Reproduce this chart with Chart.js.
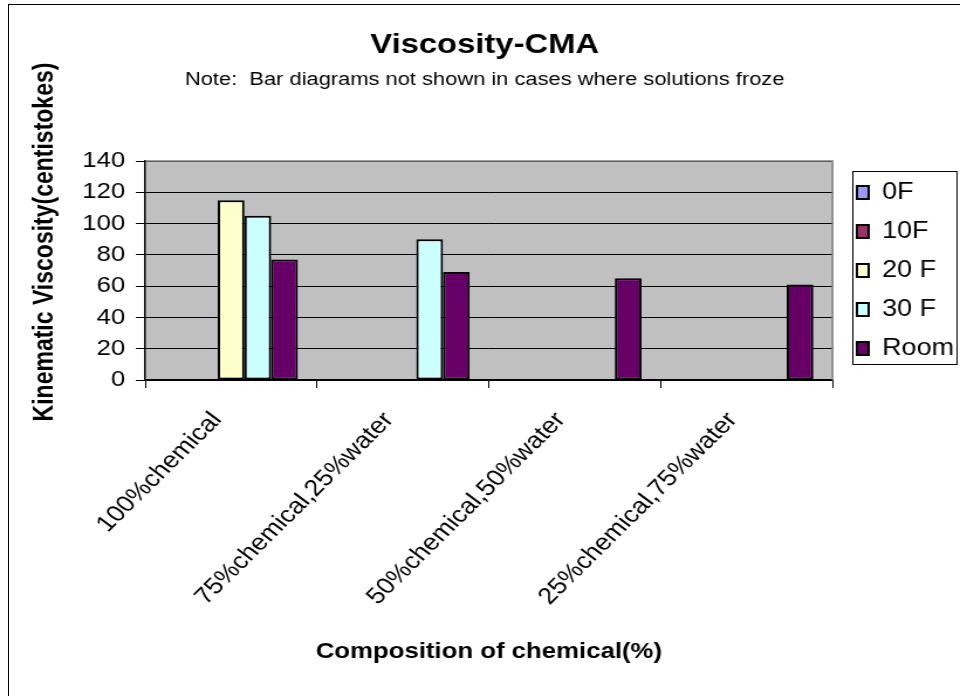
<!DOCTYPE html>
<html>
<head>
<meta charset="utf-8">
<script src="https://cdn.jsdelivr.net/npm/chart.js@4.4.0/dist/chart.umd.min.js"></script>
<style>
  html, body { margin: 0; padding: 0; background: #fff; overflow: hidden; }
  #frame { position: absolute; left: 8px; top: 4px; width: 1000px; height: 800px; border: 1px solid #000; }
  #wrap { position: absolute; left: 0; top: 0; width: 820px; height: 696px; transform: scaleX(1.1707); transform-origin: 0 0; }
</style>
</head>
<body>
<div id="frame"></div>
<div id="wrap"><canvas id="myChart"></canvas></div>
<script>
const categories = ['100%chemical', '75%chemical,25%water', '50%chemical,50%water', '25%chemical,75%water'];
const seriesNames = ['0F', '10F', '20 F', '30 F', 'Room'];
const values0F = [null, null, null, null];
const values10F = [null, null, null, null];
const values20F = [115, null, null, null];
const values30F = [105, 90, null, null];
const valuesRoom = [77, 69, 65, 61];
const yTicks = [0, 20, 40, 60, 80, 100, 120, 140];
const colors = ['#9999FF', '#993366', '#FFFFCC', '#CCFFFF', '#660066'];

document.addEventListener('DOMContentLoaded', () => {
    Chart.defaults.font.family = '"Liberation Sans", Arial, sans-serif';
    Chart.defaults.color = '#000';

    const series = [values0F, values10F, values20F, values30F, valuesRoom];
    const datasets = series.map((vals, i) => ({
        label: seriesNames[i],
        data: vals,
        backgroundColor: colors[i],
        borderColor: '#000',
        borderWidth: 2,
        borderSkipped: false,
        categoryPercentage: 0.777,
        barPercentage: 1
    }));

    // grey plot area, grey top/right edge, rotated y title, legend frame
    const plotFrame = {
        id: 'plotFrame',
        afterLayout(chart) {
            const lg = chart.legend;
            const dx = 716 - lg.left;
            lg.left += dx;
            lg.right += dx;
        },
        beforeDraw(chart) {
            const {ctx, chartArea: a} = chart;
            ctx.save();
            ctx.fillStyle = '#C0C0C0';
            ctx.fillRect(a.left, a.top, a.right - a.left, a.bottom - a.top);
            ctx.restore();
        },
        afterDraw(chart) {
            const {ctx, chartArea: a} = chart;
            ctx.save();
            ctx.strokeStyle = '#808080';
            ctx.lineWidth = 1.5;
            ctx.beginPath();
            ctx.moveTo(a.left + 1, a.top);
            ctx.lineTo(a.right, a.top);
            ctx.lineTo(a.right, a.bottom);
            ctx.stroke();

            ctx.fillStyle = '#000';
            ctx.font = 'bold 23px "Liberation Sans", Arial, sans-serif';
            ctx.textAlign = 'center';
            ctx.textBaseline = 'middle';
            ctx.translate(39, 242);
            ctx.rotate(-Math.PI / 2);
            ctx.fillText('Kinematic Viscosity(centistokes)', 0, 0);
            ctx.restore();

            const hb = chart.legend.legendHitBoxes;
            if (hb && hb.length) {
                const first = hb[0], last = hb[hb.length - 1];
                const left = first.left - 3.5;
                const top = first.top - 9.5;
                const bottom = last.top + last.height + 4.5;
                ctx.save();
                ctx.strokeStyle = '#000';
                ctx.lineWidth = 1;
                ctx.strokeRect(left, top, first.left + 85.5 - left, bottom - top);
                ctx.restore();
            }
        }
    };

    const config = {
        type: 'bar',
        data: { labels: categories, datasets: datasets },
        options: {
            responsive: true,
            maintainAspectRatio: false,
            animation: false,
            layout: { padding: { left: 8, right: 0, top: 0, bottom: 0 } },
            scales: {
                x: {
                    grid: { offset: true, drawOnChartArea: false, drawTicks: true, tickLength: 8, color: '#000' },
                    border: { color: '#000', width: 1.5 },
                    ticks: { color: '#000', font: { size: 23 }, minRotation: 49, maxRotation: 49, autoSkip: false, padding: 19, labelOffset: -12 },
                    title: {
                        display: true,
                        text: 'Composition of chemical(%)',
                        color: '#000',
                        font: { size: 22, weight: 'bold' },
                        padding: { top: 4, bottom: 31 }
                    },
                    afterFit(scale) { scale.height = 316; }
                },
                y: {
                    min: yTicks[0],
                    max: yTicks[yTicks.length - 1],
                    ticks: { stepSize: yTicks[1] - yTicks[0], color: '#000', font: { size: 22 }, padding: 9 },
                    grid: { color: '#000', tickLength: 8 },
                    border: { color: '#000', width: 1.5 },
                    afterFit(scale) { scale.width = 116; }
                }
            },
            plugins: {
                title: {
                    display: true,
                    text: 'Viscosity-CMA',
                    color: '#000',
                    font: { size: 28, weight: 'bold' },
                    padding: { top: 28, bottom: 2 }
                },
                subtitle: {
                    display: true,
                    text: 'Note:  Bar diagrams not shown in cases where solutions froze',
                    color: '#000',
                    font: { size: 18.7 },
                    padding: { top: 5, bottom: 70 }
                },
                legend: {
                    position: 'right',
                    fullSize: false,
                    labels: { color: '#000', font: { size: 23 }, boxWidth: 10, boxHeight: 13, padding: 16 }
                },
                tooltip: { enabled: false }
            }
        },
        plugins: [plotFrame]
    };

    new Chart(document.getElementById('myChart'), config);
});
</script>
</body>
</html>
